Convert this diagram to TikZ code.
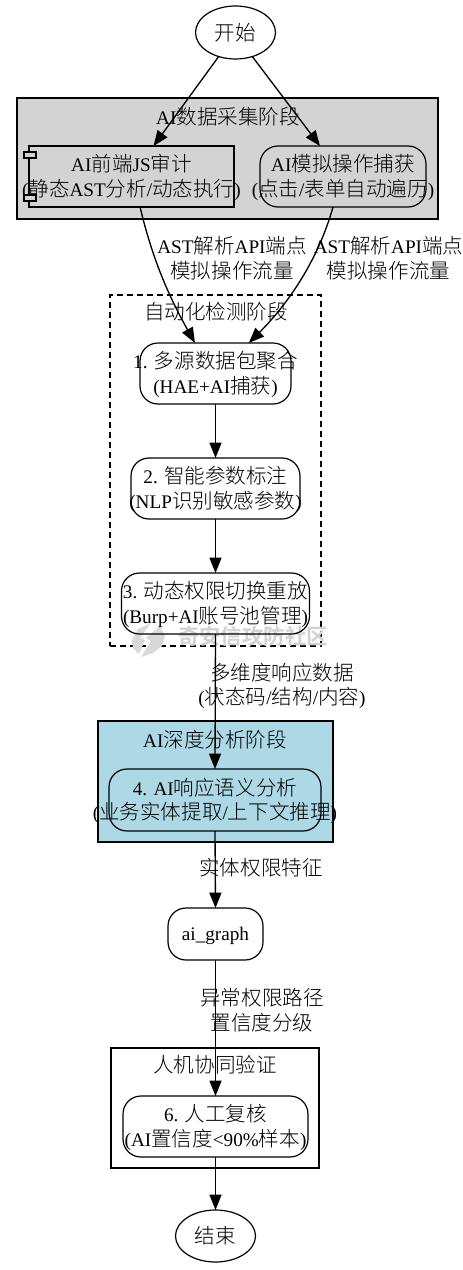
\documentclass[tikz,border=0pt]{standalone}
\usepackage{fontspec}
\setmainfont{Liberation Serif}
\newfontfamily\cjkfam[Scale=1.07]{Noto Sans CJK SC Light}
\newcommand{\zh}[1]{{\cjkfam #1}}
\usetikzlibrary{arrows.meta,shapes.geometric}
\newcommand{\lines}[2]{\makebox[0pt][c]{\raisebox{-1.9pt}[\height][\depth]{\begin{tabular}{@{}c@{}}#1\\#2\end{tabular}}}}
\tikzset{
  sz/.style 2 args={minimum width={#1*0.75pt},minimum height={#2*0.75pt},inner sep=0pt,outer sep=0pt},
  roundbox/.style={draw,rectangle,rounded corners=13.5pt,line width=0.9pt},
  plainbox/.style={draw,rectangle,line width=0.85pt},
  term/.style={draw,ellipse,line width=0.9pt,fill=white},
  cluster/.style={draw,rectangle,line width=0.85pt},
  ctitle/.style={inner sep=0pt},
  elabel/.style={inner sep=0pt},
  flow/.style={-{Triangle[length=11.5pt,width=9pt]},line width=1pt},
}
\begin{document}
\begin{tikzpicture}[x=0.75pt,y=-0.75pt,every node/.append style={font=\fontsize{14.4}{18.7}\selectfont}]
\useasboundingbox[fill=white] (0,0) rectangle (462,1270);
% clusters
\node[cluster,sz={421}{121},fill={rgb,255:red,211;green,211;blue,211}] (c1) at (227.5,158.5) {};
\node[cluster,sz={211}{351},dash pattern=on 4.5pt off 3pt] (c2) at (215.5,470.5) {};
\node[cluster,sz={235}{121},fill={rgb,255:red,173;green,216;blue,230}] (c3) at (215.5,781.5) {};
\node[cluster,sz={208}{120}] (c4) at (215,1108) {};
\node[ctitle] (t1) at (228,117) {AI\zh{数据采集阶段}};
\node[ctitle] (t2) at (216,312) {\zh{自动化检测阶段}};
\node[ctitle] (t3) at (215,740) {AI\zh{深度分析阶段}};
\node[ctitle] (t4) at (215,1065) {\zh{人机协同验证}};
% watermark
\fill[gray!30] (151,623) -- (138,629) -- (132,640) -- (133,648) -- (139,654) -- (145,640) -- (140,638) -- cycle;
\fill[gray!30] (160,626) -- (165,636) -- (162,646) -- (153,653) -- (141,657) -- (151,641) -- (146,638) -- cycle;
\node[inner sep=0pt,text=gray!35] (wm) at (253,636) {\fontsize{15}{18}\selectfont\cjkfam\bfseries 奇安信攻防社区};
% nodes
\node[term,sz={80}{53}] (start) at (235.5,32.5) {\zh{开始}};
\node[plainbox,sz={205}{61}] (js) at (131.5,176.5) {\lines{AI\zh{前端}JS\zh{审计}}{(\zh{静态}AST\zh{分析}/\zh{动态执行})}};
\node[plainbox,sz={12}{6},fill={rgb,255:red,211;green,211;blue,211}] (jsa) at (30,155) {};
\node[plainbox,sz={12}{6},fill={rgb,255:red,211;green,211;blue,211}] (jsb) at (30,198) {};
\node[roundbox,sz={166}{61}] (sim) at (343,176.5) {\lines{AI\zh{模拟操作捕获}}{(\zh{点击}/\zh{表单自动遍历})}};
\node[roundbox,sz={151}{61}] (n1) at (215.5,373.5) {\lines{1. \zh{多源数据包聚合}}{(HAE+AI\zh{捕获})}};
\node[roundbox,sz={169}{61}] (n2) at (215.5,488.5) {\lines{2. \zh{智能参数标注}}{(NLP\zh{识别敏感参数})}};
\node[roundbox,sz={188}{61}] (n3) at (215.5,603.5) {\lines{3. \zh{动态权限切换重放}}{(Burp+AI\zh{账号池管理})}};
\node[roundbox,sz={212}{62}] (n4) at (215,800) {\lines{4. AI\zh{响应语义分析}}{(\zh{业务实体提取}/\zh{上下文推理})}};
\node[roundbox,sz={95}{52}] (graph) at (215.5,934) {\raisebox{-1.2pt}[\height][\depth]{ai\_graph}};
\node[roundbox,sz={185}{61}] (n6) at (215.5,1126.5) {\lines{6. \zh{人工复核}}{(AI\zh{置信度}<90\%\zh{样本})}};
\node[term,sz={80}{52}] (end) at (215.5,1236) {\zh{结束}};
% connectors
\draw[flow] (start.235) -- ([xshift=16.5pt]js.north);
\draw[flow] (start.305) -- ([xshift=-17.25pt]sim.north);
\draw[flow] ([xshift=6.4pt]js.south) .. controls +(12,50) and +(-28,-50) .. ([xshift=-15.4pt]n1.north);
\draw[flow] ([xshift=-7.5pt]sim.south) .. controls +(-14,50) and +(42,-42) .. ([xshift=25pt]n1.north);
\draw[flow] (n1) -- (n2);
\draw[flow] (n2) -- (n3);
\draw[flow] (n3.south) -- (n4.north);
\draw[flow] (n4.south) -- (graph.north);
\draw[flow] (graph.south) -- (n6.north);
\draw[flow] (n6.south) -- (end.north);
% edge labels
\node[elabel] (l1) at (232,258.5) {\lines{AST\zh{解析}API\zh{端点}}{\zh{模拟操作流量}}};
\node[elabel] (l2) at (388.5,258.5) {\lines{AST\zh{解析}API\zh{端点}}{\zh{模拟操作流量}}};
\node[elabel] (l3) at (282,685) {\lines{\zh{多维度响应数据}}{(\zh{状态码}/\zh{结构}/\zh{内容})}};
\node[elabel] (l4) at (261,868) {\zh{实体权限特征}};
\node[elabel] (l5) at (262,1010.5) {\lines{\zh{异常权限路径}}{\zh{置信度分级}}};
\end{tikzpicture}
\end{document}
